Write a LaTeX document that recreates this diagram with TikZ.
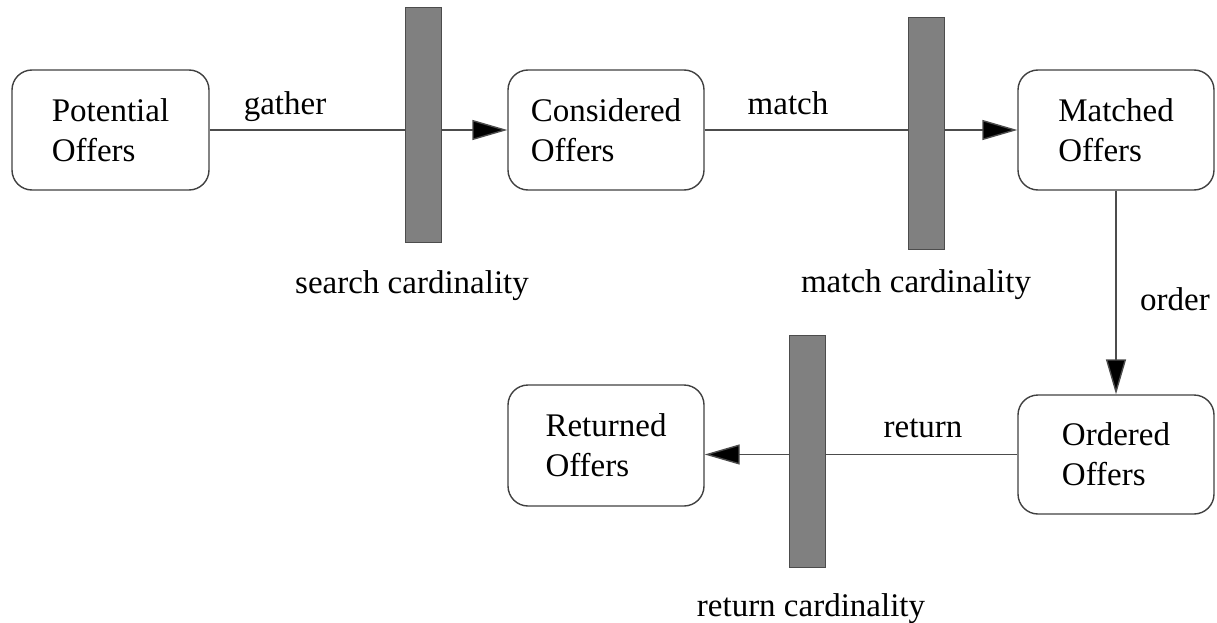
\documentclass[tikz,border=0pt]{standalone}
\usepackage{fontspec}
\setmainfont{Liberation Serif}
\usetikzlibrary{arrows.meta}
\begin{document}
\begin{tikzpicture}[x=1pt,y=-1pt,
  every node/.style={font=\fontsize{33}{40}\selectfont},
  state/.style={draw=black!75, line width=1.4pt, rounded corners=20pt, align=left, inner sep=0pt},
  barbox/.style={draw=black!70, fill=black!50, line width=1pt, minimum width=36pt, inner sep=0pt},
  flow/.style={draw=black!70, line width=1.4pt, -{Triangle[length=35pt,width=20pt,fill=black]}},
  lbl/.style={anchor=base, inner sep=0pt}]
\useasboundingbox (0,0) rectangle (1217,623);
% states
\node[state, minimum width=197pt, minimum height=120pt] (P) at (110.5,130) {Potential\\Offers};
\node[state, minimum width=196pt, minimum height=120pt] (C) at (606,130) {Considered\\Offers};
\node[state, minimum width=196pt, minimum height=120pt] (M) at (1116,130) {Matched\\Offers};
\node[state, minimum width=196pt, minimum height=121pt] (R) at (606,445.5) {Returned\\Offers};
\node[state, minimum width=196pt, minimum height=119pt] (O) at (1116,454.5) {Ordered\\Offers};
% connectors
\draw[flow] (P.east) -- (C.west);
\draw[flow] (C.east) -- (M.west);
\draw[flow] (M.south) -- (O.north);
\draw[flow] (O.west) -- (O.west -| R.east);
% bars
\node[barbox, minimum height=234pt] (B1) at (423,125) {};
\node[barbox, minimum height=231pt] (B2) at (926,133.5) {};
\node[barbox, minimum height=232pt] (B3) at (807,451) {};
% labels
\node[lbl] (lg) at (285,114) {gather};
\node[lbl] (lm) at (788,114) {match};
\node[lbl] (lo) at (1175,310) {order};
\node[lbl] (lr) at (923,437) {return};
\node[lbl] (ls) at (412,293) {search cardinality};
\node[lbl] (lmc) at (916,292) {match cardinality};
\node[lbl] (lrc) at (811,616) {return cardinality};
\end{tikzpicture}
\end{document}
